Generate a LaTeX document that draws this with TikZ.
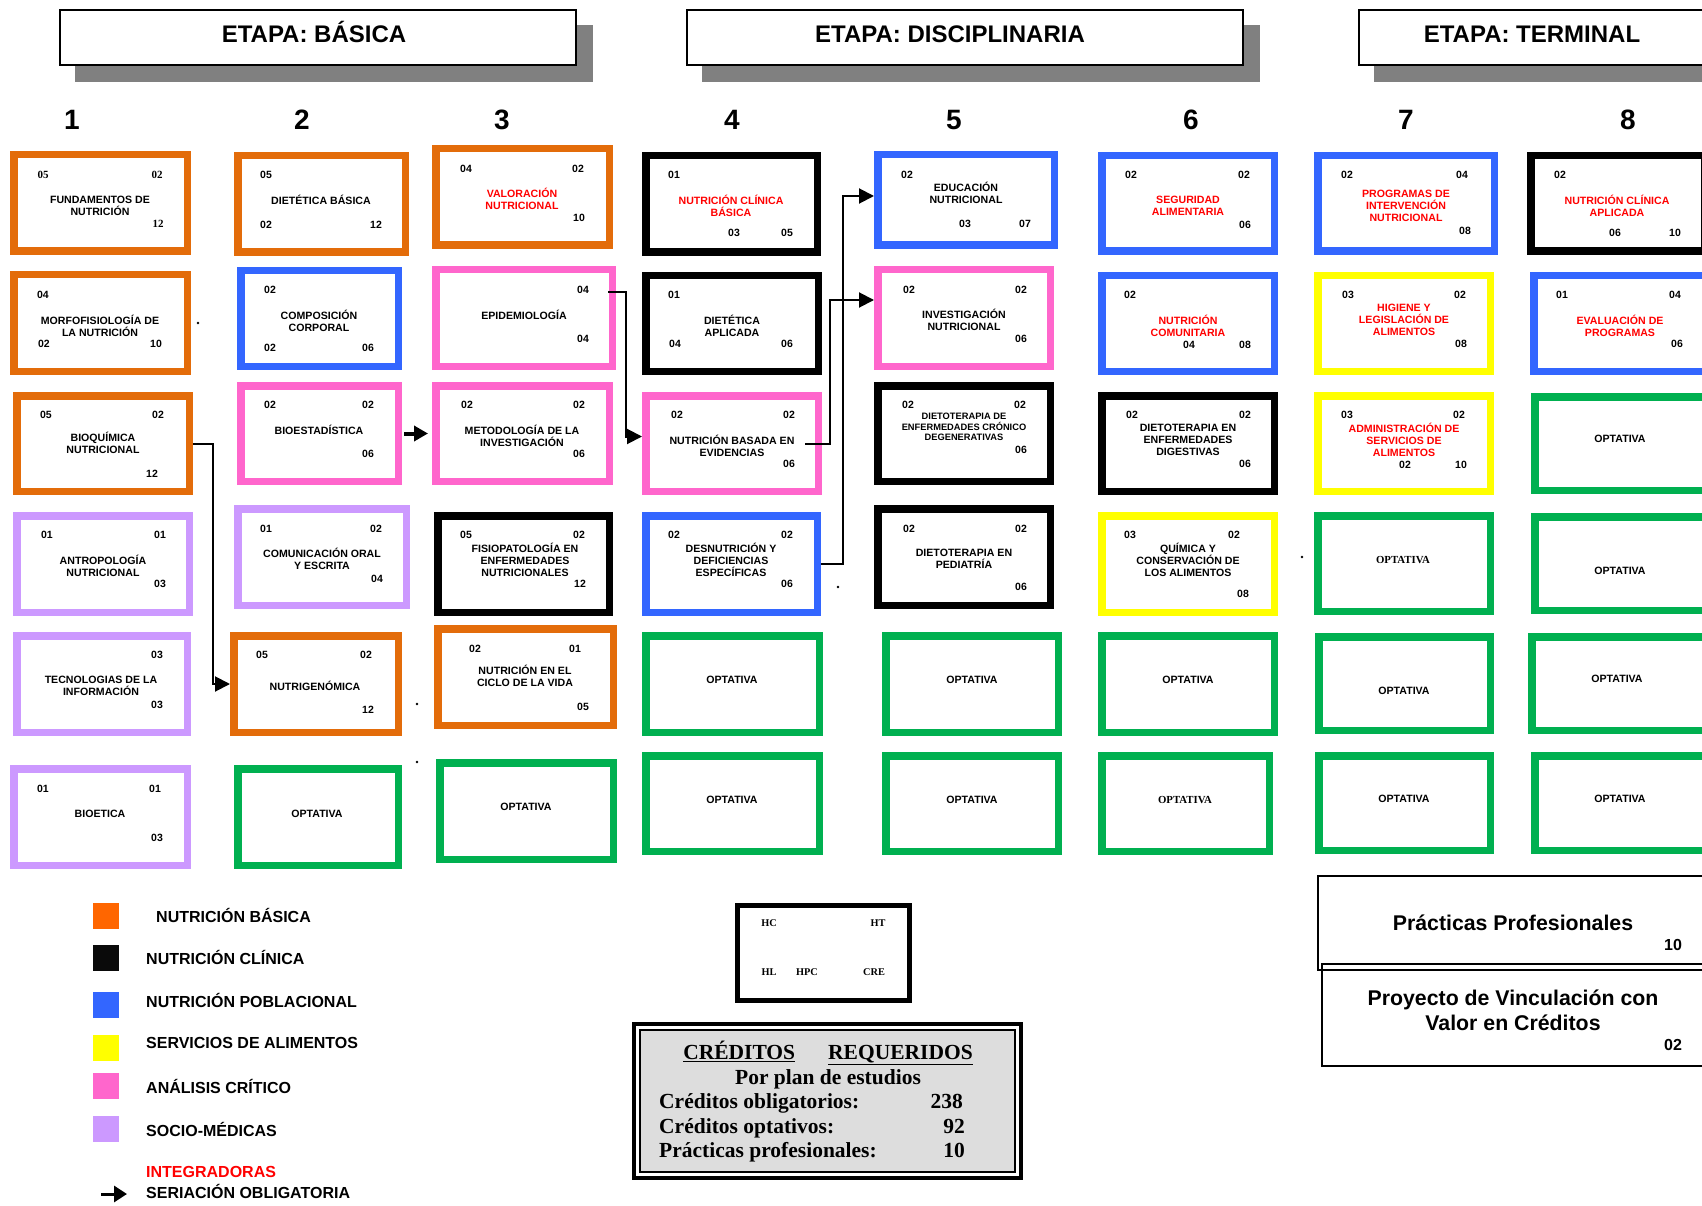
\documentclass[tikz,border=0pt]{standalone}
\usepackage{fontspec}
\setmainfont{Liberation Sans}
\newfontfamily\tnr{Liberation Serif}
\usetikzlibrary{arrows.meta,calc}

\definecolor{corg}{HTML}{E36C0A}
\definecolor{cblu}{HTML}{3366FF}
\definecolor{cpnk}{HTML}{FF66CC}
\definecolor{cpur}{HTML}{CC99FF}
\definecolor{cyel}{HTML}{FFFF00}
\definecolor{cgrn}{HTML}{00B050}
\definecolor{cred}{HTML}{FF0000}
\definecolor{lorg}{HTML}{FF6600}
\definecolor{shd}{HTML}{808080}
\definecolor{cgry}{HTML}{DDDDDD}

\tikzset{
  crs/.style={draw=#1, line width=7.5pt, outer sep=3.75pt, fill=white, inner sep=0pt},
  ttl/.style={font=\fontsize{10.6}{12.3}\selectfont\bfseries, align=center, inner sep=0pt},
  ttlr/.style={ttl, text=cred},
  ttls/.style={ttl, font=\fontsize{9.3}{10.6}\selectfont\bfseries},
  opts/.style={ttl, font=\tnr\bfseries\fontsize{10.8}{12}\selectfont},
  num/.style={font=\fontsize{10.5}{12}\selectfont\bfseries, inner sep=0pt},
  numr/.style={num, font=\tnr\bfseries\fontsize{11}{12}\selectfont},
  colnum/.style={font=\fontsize{28}{30}\selectfont\bfseries, inner sep=0pt},
  hbox/.style={draw=black, line width=2pt, fill=white, inner sep=0pt, minimum height=55pt},
  hshd/.style={fill=shd, inner sep=0pt, minimum height=57pt},
  htxt/.style={font=\fontsize{24}{26}\selectfont\bfseries, inner sep=0pt, anchor=base},
  conn/.style={line width=2pt, -{Triangle[length=15pt,width=15pt]}},
  lsq/.style={inner sep=0pt, minimum size=26pt},
  ltxt/.style={font=\fontsize{16}{18}\selectfont\bfseries, inner sep=0pt, anchor=west},
  hck/.style={font=\tnr\bfseries\fontsize{10.3}{12}\selectfont, inner sep=0pt},
  crd/.style={font=\tnr\bfseries\fontsize{21.5}{24}\selectfont, inner sep=0pt},
  ptxt/.style={font=\fontsize{21.3}{25}\selectfont\bfseries, align=center, inner sep=0pt},
  pnum/.style={font=\fontsize{16}{18}\selectfont\bfseries, inner sep=0pt},
}

% course box from its outer corners: name, x1, y1, x2, y2, colour
\newcommand\course[6]{%
  \node[crs=#6, minimum width={#4-#2-7.5}, minimum height={#5-#3-7.5}]
    (#1) at ({(#2+#4)/2},{(#3+#5)/2}) {};}

\begin{document}
\begin{tikzpicture}[x=1pt,y=-1pt]
\useasboundingbox[fill=white] (0,0) rectangle (1702,1206);

% ---------- stage headers ----------
\node[hshd, minimum width=518pt] (hb1s) at (334,53.5) {};
\node[hbox, minimum width=516pt] (hb1) at (318,37.5) {};
\node[htxt] (hb1t) at (314,43) {ETAPA: BÁSICA};
\node[hshd, minimum width=558pt] (hb2s) at (981,53.5) {};
\node[hbox, minimum width=556pt] (hb2) at (965,37.5) {};
\node[htxt] (hb2t) at (950,43) {ETAPA: DISCIPLINARIA};
\node[hshd, minimum width=348pt] (hb3s) at (1548,53.5) {};
\node[hbox, minimum width=346pt] (hb3) at (1532,37.5) {};
\node[htxt] (hb3t) at (1532,43) {ETAPA: TERMINAL};

% ---------- semester numbers ----------
\node[colnum] (c1) at (72,120) {1};
\node[colnum] (c2) at (302,120) {2};
\node[colnum] (c3) at (502,120) {3};
\node[colnum] (c4) at (732,120) {4};
\node[colnum] (c5) at (954,120) {5};
\node[colnum] (c6) at (1191,120) {6};
\node[colnum] (c7) at (1406,120) {7};
\node[colnum] (c8) at (1628,120) {8};

% ---------- semester 1 ----------
\course{fund}{10}{151}{191}{255}{corg}
\node[ttl] (fund-t) at (100,206) {FUNDAMENTOS DE\\NUTRICIÓN};
\node[numr] (fund-a) at (43,175) {05};
\node[numr] (fund-b) at (157,175) {02};
\node[numr] (fund-c) at (158,224) {12};

\course{morf}{10}{271}{191}{375}{corg}
\node[ttl] (morf-t) at (100,326) {MORFOFISIOLOGÍA DE\\LA NUTRICIÓN};
\node[num] (morf-a) at (43,295) {04};
\node[num] (morf-b) at (44,344) {02};
\node[num] (morf-c) at (156,344) {10};

\course{bioq}{13}{392}{193}{495}{corg}
\node[ttl] (bioq-t) at (103,443) {BIOQUÍMICA\\NUTRICIONAL};
\node[num] (bioq-a) at (46,415) {05};
\node[num] (bioq-b) at (158,415) {02};
\node[num] (bioq-c) at (152,474) {12};

\course{antr}{13}{512}{193}{616}{cpur}
\node[ttl] (antr-t) at (103,566) {ANTROPOLOGÍA\\NUTRICIONAL};
\node[num] (antr-a) at (47,535) {01};
\node[num] (antr-b) at (160,535) {01};
\node[num] (antr-c) at (160,584) {03};

\course{tecn}{13}{632}{191}{736}{cpur}
\node[ttl] (tecn-t) at (101,686) {TECNOLOGIAS DE LA\\INFORMACIÓN};
\node[num] (tecn-a) at (157,655) {03};
\node[num] (tecn-b) at (157,705) {03};

\course{biet}{10}{765}{191}{869}{cpur}
\node[ttl] (biet-t) at (100,814) {BIOETICA};
\node[num] (biet-a) at (43,789) {01};
\node[num] (biet-b) at (155,789) {01};
\node[num] (biet-c) at (157,838) {03};

% ---------- semester 2 ----------
\course{dbas}{234}{152}{409}{256}{corg}
\node[ttl] (dbas-t) at (321,200) {DIETÉTICA BÁSICA};
\node[num] (dbas-a) at (266,175) {05};
\node[num] (dbas-b) at (266,225) {02};
\node[num] (dbas-c) at (376,225) {12};

\course{comp}{237}{267}{402}{370}{cblu}
\node[ttl] (comp-t) at (319,321) {COMPOSICIÓN\\CORPORAL};
\node[num] (comp-a) at (270,290) {02};
\node[num] (comp-b) at (270,348) {02};
\node[num] (comp-c) at (368,348) {06};

\course{bioe}{237}{382}{402}{485}{cpnk}
\node[ttl] (bioe-t) at (319,430) {BIOESTADÍSTICA};
\node[num] (bioe-a) at (270,405) {02};
\node[num] (bioe-b) at (368,405) {02};
\node[num] (bioe-c) at (368,454) {06};

\course{comu}{234}{505}{410}{609}{cpur}
\node[ttl] (comu-t) at (322,559) {COMUNICACIÓN ORAL\\Y ESCRITA};
\node[num] (comu-a) at (266,529) {01};
\node[num] (comu-b) at (376,529) {02};
\node[num] (comu-c) at (377,579) {04};

\course{ngen}{230}{632}{402}{736}{corg}
\node[ttl] (ngen-t) at (315,686) {NUTRIGENÓMICA};
\node[num] (ngen-a) at (262,655) {05};
\node[num] (ngen-b) at (366,655) {02};
\node[num] (ngen-c) at (368,710) {12};

\course{opt2}{234}{765}{402}{869}{cgrn}
\node[ttl] (opt2-t) at (317,814) {OPTATIVA};

% ---------- semester 3 ----------
\course{valo}{432}{145}{613}{249}{corg}
\node[ttlr] (valo-t) at (522,199) {VALORACIÓN\\NUTRICIONAL};
\node[num] (valo-a) at (466,169) {04};
\node[num] (valo-b) at (578,169) {02};
\node[num] (valo-c) at (579,218) {10};

\course{epid}{432}{266}{616}{370}{cpnk}
\node[ttl] (epid-t) at (524,315) {EPIDEMIOLOGÍA};
\node[num] (epid-a) at (583,290) {04};
\node[num] (epid-b) at (583,339) {04};

\course{meto}{432}{382}{613}{485}{cpnk}
\node[ttl] (meto-t) at (522,436) {METODOLOGÍA DE LA\\INVESTIGACIÓN};
\node[num] (meto-a) at (467,405) {02};
\node[num] (meto-b) at (579,405) {02};
\node[num] (meto-c) at (579,454) {06};

\course{fisi}{434}{512}{613}{616}{black}
\node[ttl] (fisi-t) at (525,560) {FISIOPATOLOGÍA EN\\ENFERMEDADES\\NUTRICIONALES};
\node[num] (fisi-a) at (466,535) {05};
\node[num] (fisi-b) at (579,535) {02};
\node[num] (fisi-c) at (580,584) {12};

\course{cicl}{434}{625}{617}{729}{corg}
\node[ttl] (cicl-t) at (525,676) {NUTRICIÓN EN EL\\CICLO DE LA VIDA};
\node[num] (cicl-a) at (475,649) {02};
\node[num] (cicl-b) at (575,649) {01};
\node[num] (cicl-c) at (583,707) {05};

\course{opt3}{436}{759}{617}{863}{cgrn}
\node[ttl] (opt3-t) at (526,807) {OPTATIVA};

% ---------- semester 4 ----------
\course{ncb}{642}{152}{821}{256}{black}
\node[ttlr] (ncb-t) at (731,206) {NUTRICIÓN CLÍNICA\\BÁSICA};
\node[num] (ncb-a) at (674,175) {01};
\node[num] (ncb-b) at (734,233) {03};
\node[num] (ncb-c) at (787,233) {05};

\course{dapl}{642}{272}{822}{375}{black}
\node[ttl] (dapl-t) at (732,326) {DIETÉTICA\\APLICADA};
\node[num] (dapl-a) at (674,295) {01};
\node[num] (dapl-b) at (675,344) {04};
\node[num] (dapl-c) at (787,344) {06};

\course{nbe}{642}{392}{822}{495}{cpnk}
\node[ttl] (nbe-t) at (732,446) {NUTRICIÓN BASADA EN\\EVIDENCIAS};
\node[num] (nbe-a) at (677,415) {02};
\node[num] (nbe-b) at (789,415) {02};
\node[num] (nbe-c) at (789,464) {06};

\course{desn}{642}{512}{821}{616}{cblu}
\node[ttl] (desn-t) at (731,560) {DESNUTRICIÓN Y\\DEFICIENCIAS\\ESPECÍFICAS};
\node[num] (desn-a) at (674,535) {02};
\node[num] (desn-b) at (787,535) {02};
\node[num] (desn-c) at (787,584) {06};

\course{opt4a}{642}{632}{823}{736}{cgrn}
\node[ttl] (opt4a-t) at (732,680) {OPTATIVA};
\course{opt4b}{642}{752}{823}{855}{cgrn}
\node[ttl] (opt4b-t) at (732,800) {OPTATIVA};

% ---------- semester 5 ----------
\course{educ}{874}{151}{1058}{249}{cblu}
\node[ttl] (educ-t) at (966,193) {EDUCACIÓN\\NUTRICIONAL};
\node[num] (educ-a) at (907,175) {02};
\node[num] (educ-b) at (965,224) {03};
\node[num] (educ-c) at (1025,224) {07};

\course{inve}{874}{266}{1054}{370}{cpnk}
\node[ttl] (inve-t) at (964,320) {INVESTIGACIÓN\\NUTRICIONAL};
\node[num] (inve-a) at (909,290) {02};
\node[num] (inve-b) at (1021,290) {02};
\node[num] (inve-c) at (1021,339) {06};

\course{dcro}{874}{382}{1054}{485}{black}
\node[ttls] (dcro-t) at (964,427) {DIETOTERAPIA DE\\ENFERMEDADES CRÓNICO\\DEGENERATIVAS};
\node[num] (dcro-a) at (908,405) {02};
\node[num] (dcro-b) at (1020,405) {02};
\node[num] (dcro-c) at (1021,450) {06};

\course{dped}{874}{505}{1054}{609}{black}
\node[ttl] (dped-t) at (964,559) {DIETOTERAPIA EN\\PEDIATRÍA};
\node[num] (dped-a) at (909,529) {02};
\node[num] (dped-b) at (1021,529) {02};
\node[num] (dped-c) at (1021,587) {06};

\course{opt5a}{882}{632}{1062}{736}{cgrn}
\node[ttl] (opt5a-t) at (972,680) {OPTATIVA};
\course{opt5b}{882}{752}{1062}{855}{cgrn}
\node[ttl] (opt5b-t) at (972,800) {OPTATIVA};

% ---------- semester 6 ----------
\course{segu}{1098}{152}{1278}{255}{cblu}
\node[ttlr] (segu-t) at (1188,206) {SEGURIDAD\\ALIMENTARIA};
\node[num] (segu-a) at (1131,175) {02};
\node[num] (segu-b) at (1244,175) {02};
\node[num] (segu-c) at (1245,225) {06};

\course{ncom}{1098}{272}{1278}{375}{cblu}
\node[ttlr] (ncom-t) at (1188,326) {NUTRICIÓN\\COMUNITARIA};
\node[num] (ncom-a) at (1130,295) {02};
\node[num] (ncom-b) at (1189,345) {04};
\node[num] (ncom-c) at (1245,345) {08};

\course{ddig}{1098}{392}{1278}{495}{black}
\node[ttl] (ddig-t) at (1188,440) {DIETOTERAPIA EN\\ENFERMEDADES\\DIGESTIVAS};
\node[num] (ddig-a) at (1132,415) {02};
\node[num] (ddig-b) at (1245,415) {02};
\node[num] (ddig-c) at (1245,464) {06};

\course{quim}{1098}{512}{1278}{616}{cyel}
\node[ttl] (quim-t) at (1188,560) {QUÍMICA Y\\CONSERVACIÓN DE\\LOS ALIMENTOS};
\node[num] (quim-a) at (1130,535) {03};
\node[num] (quim-b) at (1234,535) {02};
\node[num] (quim-c) at (1243,594) {08};

\course{opt6a}{1098}{632}{1278}{736}{cgrn}
\node[ttl] (opt6a-t) at (1188,680) {OPTATIVA};
\course{opt6b}{1098}{752}{1273}{855}{cgrn}
\node[opts] (opt6b-t) at (1185,800) {OPTATIVA};

% ---------- semester 7 ----------
\course{prog}{1314}{152}{1498}{255}{cblu}
\node[ttlr] (prog-t) at (1406,206) {PROGRAMAS DE\\INTERVENCIÓN\\NUTRICIONAL};
\node[num] (prog-a) at (1347,175) {02};
\node[num] (prog-b) at (1462,175) {04};
\node[num] (prog-c) at (1465,231) {08};

\course{higi}{1314}{272}{1494}{375}{cyel}
\node[ttlr] (higi-t) at (1404,320) {HIGIENE Y\\LEGISLACIÓN DE\\ALIMENTOS};
\node[num] (higi-a) at (1348,295) {03};
\node[num] (higi-b) at (1460,295) {02};
\node[num] (higi-c) at (1461,344) {08};

\course{admi}{1314}{392}{1494}{495}{cyel}
\node[ttlr] (admi-t) at (1404,440) {ADMINISTRACIÓN DE\\SERVICIOS DE\\ALIMENTOS};
\node[num] (admi-a) at (1347,415) {03};
\node[num] (admi-b) at (1459,415) {02};
\node[num] (admi-c) at (1405,465) {02};
\node[num] (admi-d) at (1461,465) {10};

\course{opt7a}{1314}{512}{1494}{615}{cgrn}
\node[opts] (opt7a-t) at (1403,560) {OPTATIVA};
\course{opt7b}{1315}{633}{1494}{734}{cgrn}
\node[ttl] (opt7b-t) at (1404,691) {OPTATIVA};
\course{opt7c}{1315}{752}{1494}{854}{cgrn}
\node[ttl] (opt7c-t) at (1404,799) {OPTATIVA};

% ---------- semester 8 ----------
\course{ncap}{1527}{152}{1708}{255}{black}
\node[ttlr] (ncap-t) at (1617,206) {NUTRICIÓN CLÍNICA\\APLICADA};
\node[num] (ncap-a) at (1560,175) {02};
\node[num] (ncap-b) at (1615,233) {06};
\node[num] (ncap-c) at (1675,233) {10};

\course{eval}{1530}{272}{1710}{375}{cblu}
\node[ttlr] (eval-t) at (1620,326) {EVALUACIÓN DE\\PROGRAMAS};
\node[num] (eval-a) at (1562,295) {01};
\node[num] (eval-b) at (1675,295) {04};
\node[num] (eval-c) at (1677,344) {06};

\course{opt8a}{1531}{393}{1711}{494}{cgrn}
\node[ttl] (opt8a-t) at (1620,439) {OPTATIVA};
\course{opt8b}{1531}{513}{1711}{614}{cgrn}
\node[ttl] (opt8b-t) at (1620,571) {OPTATIVA};
\course{opt8c}{1528}{633}{1711}{734}{cgrn}
\node[ttl] (opt8c-t) at (1617,679) {OPTATIVA};
\course{opt8d}{1531}{752}{1711}{854}{cgrn}
\node[ttl] (opt8d-t) at (1620,799) {OPTATIVA};

% ---------- mandatory sequence ----------
\draw[line width=4pt, -{Triangle[length=14pt,width=15pt]}]
  ([xshift=2pt]bioe.east) -- ([xshift=-4pt]meto.west);
\draw[conn] (bioq.east) -- ++(20,0) |- (ngen.west);
\draw[conn] ([xshift=-8pt,yshift=26pt]epid.east) -- ++(18,0) |- ([yshift=7pt]nbe.west);
\draw[conn] ([xshift=-17pt]nbe.east) -- ++(25,0) |- ([yshift=18pt]inve.west);
\draw[conn] (desn.east) -- ++(22,0) |- ([yshift=4pt]educ.west);

% small stray marks
\fill (198,323) circle (1.3);
\fill (417,704) circle (1.3);
\fill (417,762) circle (1.3);
\fill (838,587) circle (1.3);
\fill (1302,557) circle (1.3);

% ---------- legend ----------
\node[lsq, fill=lorg] (lg1) at (106,916) {};
\node[lsq, fill=black!96] (lg2) at (106,958) {};
\node[lsq, fill=cblu] (lg3) at (106,1005) {};
\node[lsq, fill=cyel] (lg4) at (106,1048) {};
\node[lsq, fill=cpnk] (lg5) at (106,1086) {};
\node[lsq, fill=cpur] (lg6) at (106,1129) {};
\node[ltxt] (lt1) at (156,915) {NUTRICIÓN BÁSICA};
\node[ltxt] (lt2) at (146,957) {NUTRICIÓN CLÍNICA};
\node[ltxt] (lt3) at (146,1000) {NUTRICIÓN POBLACIONAL};
\node[ltxt] (lt4) at (146,1043) {SERVICIOS DE ALIMENTOS};
\node[ltxt] (lt5) at (146,1086) {ANÁLISIS CRÍTICO};
\node[ltxt] (lt6) at (146,1129) {SOCIO-MÉDICAS};
\node[ltxt, text=cred] (lt7) at (146,1172) {INTEGRADORAS};
\node[ltxt] (lt8) at (146,1191) {SERIACIÓN OBLIGATORIA};
\coordinate (la1) at (101,1194);
\coordinate (la2) at (127,1194);
\draw[line width=3pt, -{Triangle[length=13pt,width=16pt]}] (la1) -- (la2);

% ---------- hours key ----------
\node[draw, line width=5pt, minimum width=172pt, minimum height=95pt, inner sep=0pt] (key) at (823.5,953) {};
\node[hck] (key-hc) at (769,923) {HC};
\node[hck] (key-ht) at (878,923) {HT};
\node[hck] (key-hl) at (769,972) {HL};
\node[hck] (key-hpc) at (807,972) {HPC};
\node[hck] (key-cre) at (874,972) {CRE};

% ---------- required credits ----------
\node[draw, line width=4pt, minimum width=387pt, minimum height=154pt, inner sep=0pt] (cr-out) at (827.5,1101) {};
\node[draw, fill=cgry, line width=2pt, minimum width=375pt, minimum height=142pt, inner sep=0pt] (cr-in) at (827.5,1101) {};
\node[crd] (cr-t) at (828,1053) {\underline{CRÉDITOS}\hspace{33pt}\underline{REQUERIDOS}};
\node[crd] (cr-s) at (828,1079) {Por plan de estudios};
\node[crd, anchor=base west] (cr-l1) at (659,1108) {Créditos obligatorios:};
\node[crd, anchor=base west] (cr-l2) at (659,1133) {Créditos optativos:};
\node[crd, anchor=base west] (cr-l3) at (659,1157) {Prácticas profesionales:};
\node[crd, anchor=base east] (cr-n1) at (963,1108) {238};
\node[crd, anchor=base east] (cr-n2) at (965,1133) {92};
\node[crd, anchor=base east] (cr-n3) at (965,1157) {10};

% ---------- professional practice ----------
\node[draw, line width=1.8pt, minimum width=387.2pt, minimum height=102.2pt, inner sep=0pt] (proy) at (1515.5,1015) {};
\node[draw, line width=1.8pt, minimum width=391.2pt, minimum height=94.2pt, inner sep=0pt] (prac) at (1513.5,923) {};
\node[ptxt] (prac-t) at (1513,923) {Prácticas Profesionales};
\node[pnum] (prac-n) at (1673,945) {10};
\node[ptxt] (proy-t) at (1513,1010) {Proyecto de Vinculación con\\Valor en Créditos};
\node[pnum] (proy-n) at (1673,1045) {02};
\end{tikzpicture}
\end{document}
